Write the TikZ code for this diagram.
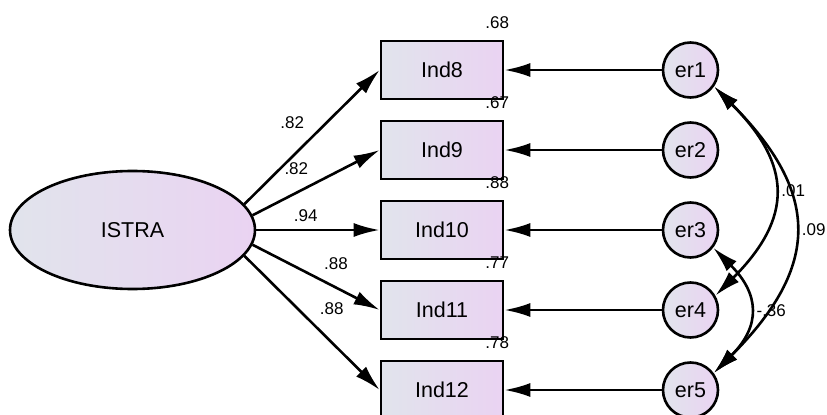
\documentclass[tikz,border=0pt]{standalone}
\usepackage{fontspec}
\setmainfont{Liberation Sans}
\usetikzlibrary{positioning, shapes.geometric, arrows.meta}
\definecolor{shadeleft}{HTML}{E1E4EC}
\definecolor{shaderight}{HTML}{EAD3F2}
\tikzset{
	shaded/.style ={left color=shadeleft, right color=shaderight},
	latent/.append style={
		ellipse,
		draw,
		shaded,
		minimum width=122.5pt,
		minimum height=59pt,
		font={\fontsize{10.75}{12}\selectfont}
	},
	observed/.append style={
		draw,
		shaded,
		minimum width=61pt,
		minimum height=29pt,
		font={\fontsize{10.75}{12}\selectfont}
	},
	errorterm/.append style={
		circle,
		draw,
		shaded,
		inner sep=0pt,
		minimum size=27.5pt,
		font={\fontsize{10.75}{12}\selectfont}
	},
	coef/.append style={
		font={\fontsize{8.5}{9}\selectfont}
	},
	loading/.append style={
		-{Latex[length=13pt,width=7pt]}
	},
	covar/.append style={
		{Latex[length=13pt,width=7pt]}-{Latex[length=13pt,width=7pt]},
		looseness=1.35
	}
}
\begin{document}
\begin{tikzpicture}[line width=1.3pt]
\useasboundingbox (0,0) rectangle (413.5pt,207pt);

\node(ind1)[observed] at (221pt,172pt) {Ind8};
\node(er1)[errorterm, right = 78.7pt of ind1] {er1};
\foreach \ii in {2,...,5} {
	\pgfmathtruncatemacro\jj{\ii - 1};
	\pgfmathtruncatemacro\kk{\ii + 7};
	\node(ind\ii)[observed, below = 9.7pt of ind\jj] {Ind\kk};
	\node(er\ii)[errorterm, right = 78.7pt of ind\ii] {er\ii};
};

\node(istra)[latent, left = 61.7pt of ind3] {ISTRA};

% squared multiple correlations
\foreach \ii/\rr in {1/.68, 2/.67, 3/.88, 4/.77, 5/.78} {
	\node(rsq\ii)[coef, inner sep=0pt, anchor=base east] at ([shift={(3pt,5.5pt)}]ind\ii.north east) {\rr};
	\draw[loading] (er\ii.west) -- (ind\ii.east);
};

% loadings
\foreach \ii/\aa/\cc/\ps/\sd in {1/13/.82/0.5/above left, 2/7/.82/0.5/above left, 3/0/.94/0.4/above, 4/-7/.88/0.5/above right, 5/-13/.88/0.5/above right} {
	\draw[loading] (istra.\aa) -- node[coef, \sd, pos=\ps]{\cc} (ind\ii.west);
};

% covariances
\draw[covar] (er1.-35) to[out=-45, in=45] node[coef, right]{.01} (er4.30);
\draw[covar] (er1.-35) to[out=-45, in=45] node[coef, right]{.09} (er5.36);
\draw[covar] (er3.-38) to[out=-45, in=45] node[coef, right]{-.36} (er5.36);
\end{tikzpicture}
\end{document}
